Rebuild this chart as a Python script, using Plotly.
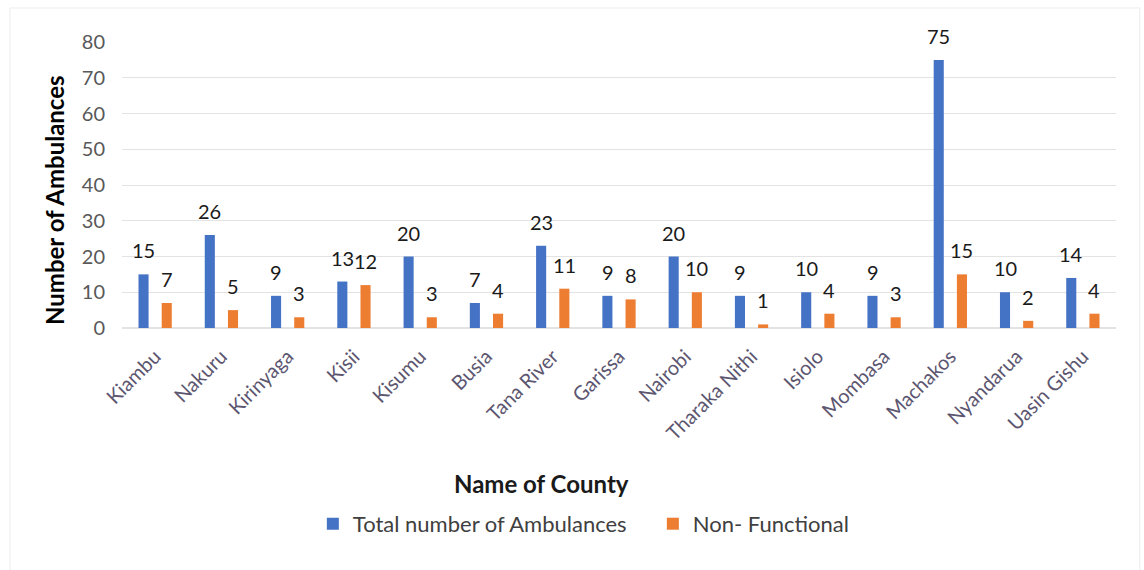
import plotly.graph_objects as go

counties = ["Kiambu", "Nakuru", "Kirinyaga", "Kisii", "Kisumu", "Busia", "Tana River",
            "Garissa", "Nairobi", "Tharaka Nithi", "Isiolo", "Mombasa", "Machakos",
            "Nyandarua", "Uasin Gishu"]
total_ambulances = [15, 26, 9, 13, 20, 7, 23, 9, 20, 9, 10, 9, 75, 10, 14]
non_functional = [7, 5, 3, 12, 3, 4, 11, 8, 10, 1, 4, 3, 15, 2, 4]
y_ticks = [0, 10, 20, 30, 40, 50, 60, 70, 80]

BLUE = "#4472C4"
ORANGE = "#ED7D31"
FONT = "Lato, Open Sans, sans-serif"

fig = go.Figure()
fig.add_trace(go.Bar(x=counties, y=total_ambulances, name="Total number of Ambulances",
                     marker=dict(color=BLUE, line=dict(width=0))))
fig.add_trace(go.Bar(x=counties, y=non_functional, name="Non- Functional",
                     marker=dict(color=ORANGE, line=dict(width=0))))

# value labels above each bar
for series, shift in ((total_ambulances, -11.5), (non_functional, 11.5)):
    for c, v in zip(counties, series):
        fig.add_annotation(x=c, y=v, text=str(v), showarrow=False, xref="x", yref="y",
                           xshift=shift, yshift=10, yanchor="bottom",
                           font=dict(family=FONT, size=20, color="#1a1a1a"))

# axis titles
fig.add_annotation(text="<b>Number of Ambulances</b>", xref="paper", yref="paper",
                   x=-0.0674, y=0.4476, textangle=-90, showarrow=False,
                   xanchor="center", yanchor="middle",
                   font=dict(family=FONT, size=24, color="#000000"))
fig.add_annotation(text="<b>Name of County</b>", xref="paper", yref="paper",
                   x=0.4225, y=-0.545, showarrow=False, xanchor="center", yanchor="middle",
                   font=dict(family=FONT, size=24, color="#1a1a1a"))

# faint chart frame
fig.add_shape(type="rect", xref="paper", yref="paper", x0=-0.1127, x1=1.024, y0=-0.95, y1=1.119,
              line=dict(color="#ececec", width=1))

fig.update_layout(
    width=1144, height=570,
    margin=dict(l=122, r=28, t=42, b=242),
    paper_bgcolor="white", plot_bgcolor="white",
    barmode="group", bargap=0.30, bargroupgap=0.565,
    font=dict(family=FONT, color="#595959"),
    showlegend=True,
    legend=dict(orientation="h", x=0.192, xanchor="left", y=-0.685, yanchor="middle",
                entrywidth=295, entrywidthmode="pixels", itemwidth=30,
                font=dict(family=FONT, size=22, color="#404040")),
)
fig.update_xaxes(
    tickangle=-45, tickfont=dict(family=FONT, size=20, color="#5c5670"),
    showgrid=False, showline=False, ticks="", ticklabelstandoff=12,
)
fig.update_yaxes(
    range=[0, 80], tickvals=y_ticks, tickfont=dict(family=FONT, size=20, color="#595959"),
    showgrid=True, gridcolor="#e3e3e3", gridwidth=1, zeroline=True, zerolinecolor="#e3e3e3",
    showline=False, ticks="", ticklabelstandoff=16,
)

fig.write_html("out.html")
